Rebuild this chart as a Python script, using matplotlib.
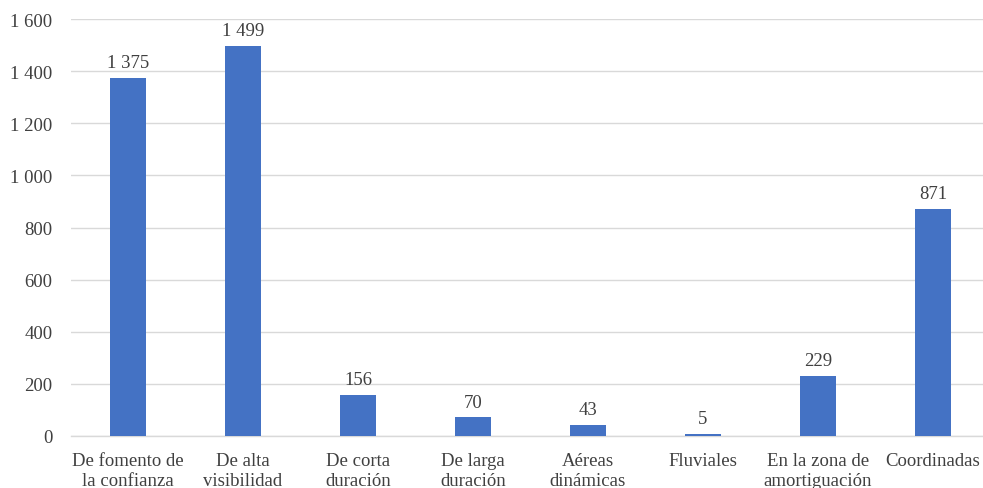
import matplotlib
matplotlib.use("Agg")
import matplotlib.pyplot as plt

categories = ["De fomento de\nla confianza", "De alta\nvisibilidad", "De corta\nduración",
              "De larga\nduración", "Aéreas\ndinámicas", "Fluviales",
              "En la zona de\namortiguación", "Coordinadas"]
values = [1375, 1499, 156, 70, 43, 5, 229, 871]
yticks = [0, 200, 400, 600, 800, 1000, 1200, 1400, 1600]

def fmt(v):
    return f"{v:,}".replace(",", " ")

plt.rcParams['font.family'] = ['Liberation Serif', 'DejaVu Serif']
txt = '#404040'
fs = 13.5

fig = plt.figure(figsize=(9.83, 4.89), dpi=100)
ax = fig.add_axes([70.5/983, 52.3/489, 920/983, 416.4/489])
x = list(range(len(categories)))
ax.bar(x, values, width=0.31, color='#4472C4', zorder=3)
ax.set_xlim(-0.5, len(categories) - 0.5)
ax.set_ylim(0, 1600)
ax.set_yticks(yticks)
ax.set_yticklabels([fmt(v) for v in yticks], fontsize=fs, color=txt)
ax.set_xticks(x)
ax.set_xticklabels(categories, fontsize=fs, color=txt, linespacing=1.2)
ax.tick_params(axis='both', length=0)
ax.tick_params(axis='x', pad=12)
ax.tick_params(axis='y', pad=13)
ax.grid(axis='y', color='#D9D9D9', linewidth=1, zorder=0)
for s in ['top', 'right', 'left']:
    ax.spines[s].set_visible(False)
ax.spines['bottom'].set_color('#D9D9D9')
ax.spines['bottom'].set_linewidth(1)
for xi, v in zip(x, values):
    ax.annotate(fmt(v), (xi, v), xytext=(0, 5), textcoords='offset points',
                ha='center', va='bottom', fontsize=fs, color=txt)
fig.savefig('out.png', dpi=100)
